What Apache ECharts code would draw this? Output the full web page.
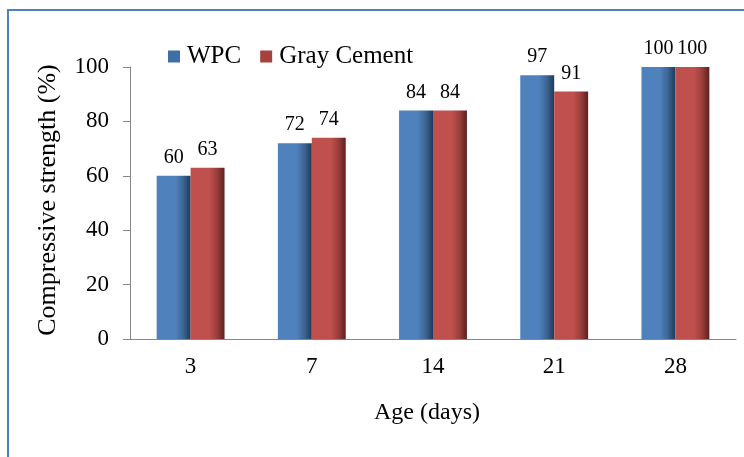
<!DOCTYPE html>
<html>
<head>
<meta charset="utf-8">
<script src="https://cdn.jsdelivr.net/npm/echarts@6/dist/echarts.min.js"></script>
<style>
  html, body { margin: 0; padding: 0; background: #fff; }
  #chart { width: 744px; height: 457px; }
</style>
</head>
<body>
<div id="chart"></div>
<script>
// Age of the specimens (days)
const ages = ['3', '7', '14', '21', '28'];
// Relative compressive strength (%)
const wpc = [60, 72, 84, 97, 100];
const grayCement = [63, 74, 84, 91, 100];
const yTicks = [0, 20, 40, 60, 80, 100];

const FONT = '"Liberation Serif", "Times New Roman", serif';

function shade(light, mid, dark) {
  return new echarts.graphic.LinearGradient(0, 0, 1, 0, [
    { offset: 0, color: light },
    { offset: 0.55, color: light },
    { offset: 0.78, color: mid },
    { offset: 1, color: dark }
  ]);
}

const chart = echarts.init(document.getElementById('chart'));

const labelStyle = {
  show: true,
  position: 'top',
  distance: 8,
  color: '#000',
  fontFamily: FONT,
  fontSize: 20
};

chart.setOption({
  animation: false,
  backgroundColor: '#fff',
  graphic: [{
    type: 'rect',
    shape: { x: 8, y: 10, width: 800, height: 500 },
    style: { fill: 'none', stroke: '#4f81bd', lineWidth: 2 },
    silent: true
  }],
  legend: {
    left: 163,
    top: 39,
    itemWidth: 12,
    itemHeight: 12,
    itemGap: 19,
    icon: 'rect',
    textStyle: { fontFamily: FONT, fontSize: 25, color: '#000', padding: [0, 0, 0, 2] },
    data: [
      { name: 'WPC', itemStyle: { color: '#3f6ea5' } },
      { name: 'Gray Cement', itemStyle: { color: '#a8403d' } }
    ]
  },
  grid: { left: 130, right: 8, top: 67, bottom: 118 },
  xAxis: {
    type: 'category',
    data: ages,
    name: 'Age (days)',
    nameLocation: 'middle',
    nameGap: 62,
    nameTextStyle: { fontFamily: FONT, fontSize: 24, color: '#000', padding: [0, 12, 0, 0] },
    axisLine: { lineStyle: { color: '#868686', width: 1 } },
    axisTick: { show: false },
    axisLabel: { margin: 16, fontFamily: FONT, fontSize: 23, color: '#000' }
  },
  yAxis: {
    type: 'value',
    min: yTicks[0],
    max: yTicks[yTicks.length - 1],
    interval: 20,
    name: 'Compressive strength (%)',
    nameLocation: 'middle',
    nameGap: 69,
    nameTextStyle: { fontFamily: FONT, fontSize: 26, color: '#000', padding: [0, 0, 0, 6] },
    axisLine: { show: true, lineStyle: { color: '#868686', width: 1 } },
    axisTick: { show: true, length: 7, lineStyle: { color: '#868686' } },
    splitLine: { show: false },
    axisLabel: { margin: 21, fontFamily: FONT, fontSize: 23, color: '#000' }
  },
  series: [
    {
      name: 'WPC',
      type: 'bar',
      data: wpc,
      barGap: '0%',
      barCategoryGap: '44%',
      itemStyle: { color: shade('#4f81bd', '#3c6592', '#1f3a5b') },
      label: labelStyle
    },
    {
      name: 'Gray Cement',
      type: 'bar',
      data: grayCement,
      itemStyle: { color: shade('#c0504d', '#9a3f3c', '#5e201f') },
      label: labelStyle
    }
  ]
});
</script>
</body>
</html>
